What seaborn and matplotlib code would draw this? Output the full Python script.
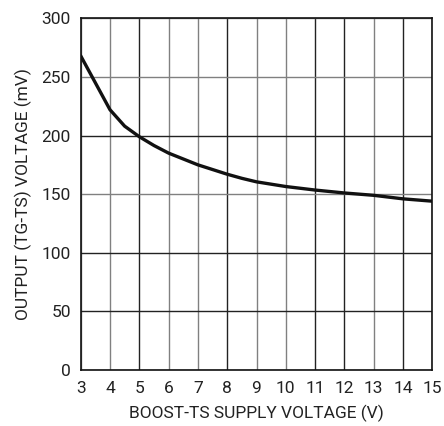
import matplotlib
matplotlib.use('Agg')
import matplotlib.pyplot as plt
import seaborn as sns
import pandas as pd

# Curve
supply_v = [3, 3.5, 4, 4.5, 5, 5.5, 6, 6.5, 7, 7.5, 8, 8.5, 9, 9.5, 10, 11, 12, 13, 14, 15]
output_mv = [268, 245, 222, 208, 199, 191.5, 185, 180, 175, 171, 167, 163.5, 160.5, 158.5,
             156.5, 153.5, 151, 149, 146, 144]
x_ticks = list(range(3, 16))
y_ticks = [0, 50, 100, 150, 200, 250, 300]

df = pd.DataFrame({'Supply': supply_v, 'Output': output_mv})

sns.set_style('white')
plt.rcParams['font.family'] = ['Roboto', 'DejaVu Sans']

fig = plt.figure(figsize=(4.44, 4.26), dpi=100)
ax = fig.add_axes([80.7 / 444, 1 - 370 / 426, (432.3 - 80.7) / 444, (370 - 18.3) / 426])

# Grid lines (some print darker than others in the original scan)
dark_x = [5, 8, 11, 12, 14]
dark_y = [50, 100, 200]
for xv in x_ticks:
    ax.axvline(xv, color='#222222' if xv in dark_x else '#808080', lw=1.0, zorder=1)
for yv in y_ticks:
    ax.axhline(yv, color='#222222' if yv in dark_y else '#808080', lw=1.0, zorder=1)

sns.lineplot(data=df, x='Supply', y='Output', ax=ax, color='#111111', lw=2.4, zorder=3)

ax.set_xlim(3, 15)
ax.set_ylim(0, 300)
ax.set_xticks(x_ticks)
ax.set_yticks(y_ticks)
ax.tick_params(labelsize=12.5, length=0, colors='#222222')
ax.tick_params(axis='x', pad=8)
ax.tick_params(axis='y', pad=7)
for s in ax.spines.values():
    s.set_color('#111111')
    s.set_linewidth(1.2)
ax.set_xlabel('BOOST-TS SUPPLY VOLTAGE (V)', fontsize=12.5, labelpad=6, color='#222222')
ax.set_ylabel('OUTPUT (TG-TS) VOLTAGE (mV)', fontsize=12.5, labelpad=7, color='#222222')

# Title sits mostly above the visible area, only descenders show
fig.text(258 / 444, 1 + 4.5 / 426, 'Output vs Supply Voltage', ha='right', va='baseline',
         fontsize=14, fontweight='bold')

fig.savefig('out.png', dpi=100)
